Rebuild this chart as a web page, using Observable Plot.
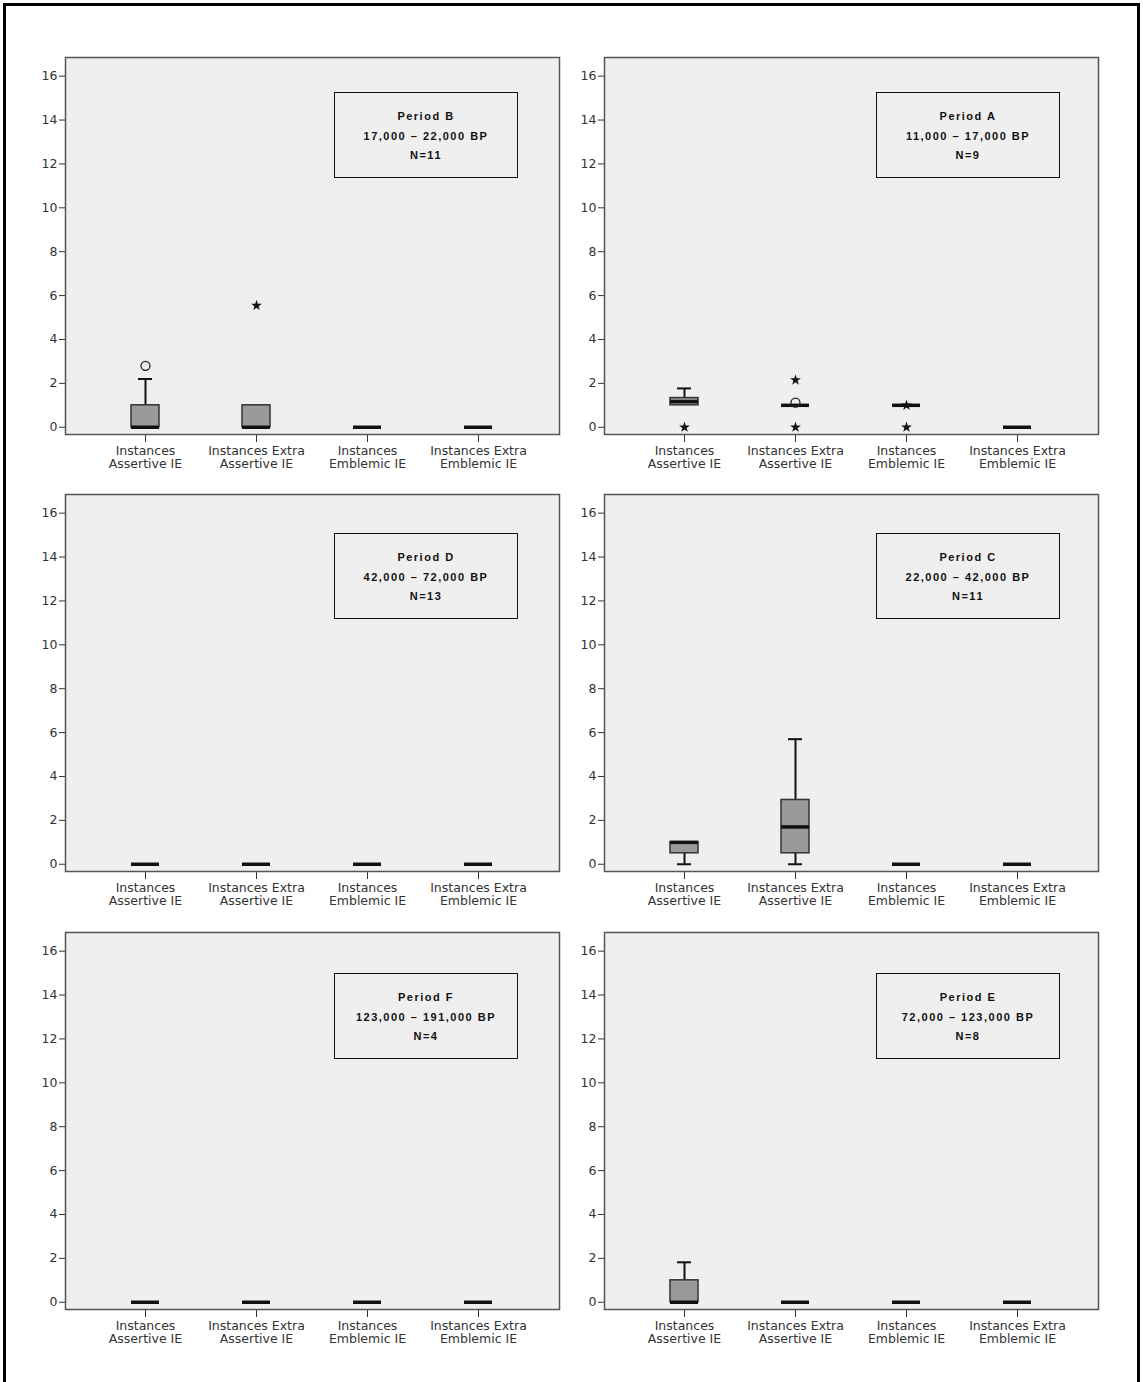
<!DOCTYPE html>
<html>
<head>
<meta charset="utf-8">
<script src="https://cdn.jsdelivr.net/npm/d3@7"></script>
<script src="https://cdn.jsdelivr.net/npm/@observablehq/plot@0.6"></script>
<style>
  html, body { margin: 0; padding: 0; background: #fff; }
  #root { position: relative; width: 1143px; height: 1382px; overflow: hidden; background: #fff; }
  #border { position: absolute; left: 3px; top: 3px; width: 1137px; height: 1400px; box-sizing: border-box;
            border-top: 3px solid #000; border-left: 3px solid #000; border-right: 3px solid #000; }
  .panel { position: absolute; }
  .note { position: absolute; width: 184px; height: 86px; box-sizing: border-box; border: 1.5px solid #111;
          font-family: "Liberation Sans", Arial, sans-serif; font-weight: bold; font-size: 11px; letter-spacing: 1.5px;
          color: #111; text-align: center; padding-top: 14px; line-height: 19.5px; }
</style>
</head>
<body>
<div id="root"><div id="border"></div></div>
<script>
// ---- data ----
const categories = ["Instances Assertive IE", "Instances Extra Assertive IE", "Instances Emblemic IE", "Instances Extra Emblemic IE"];
const categoryLabels = ["Instances\nAssertive IE", "Instances Extra\nAssertive IE", "Instances\nEmblemic IE", "Instances Extra\nEmblemic IE"];
const yTicks = [0, 2, 4, 6, 8, 10, 12, 14, 16];

const periodNames = ["Period B", "Period A", "Period D", "Period C", "Period F", "Period E"];
const periodRanges = ["17,000 – 22,000 BP", "11,000 – 17,000 BP", "42,000 – 72,000 BP", "22,000 – 42,000 BP", "123,000 – 191,000 BP", "72,000 – 123,000 BP"];
const periodN = ["N=11", "N=9", "N=13", "N=11", "N=4", "N=8"];

// per category: [lower whisker, q1, median, q3, upper whisker]
const statsB = [[0, 0, 0, 1, 2.2], [0, 0, 0, 1, 1], [0, 0, 0, 0, 0], [0, 0, 0, 0, 0]];
const statsA = [[1, 1, 1.17, 1.33, 1.77], [1, 1, 1, 1, 1], [1, 1, 1, 1, 1], [0, 0, 0, 0, 0]];
const statsD = [[0, 0, 0, 0, 0], [0, 0, 0, 0, 0], [0, 0, 0, 0, 0], [0, 0, 0, 0, 0]];
const statsC = [[0, 0.5, 1, 1, 1], [0, 0.5, 1.7, 2.93, 5.7], [0, 0, 0, 0, 0], [0, 0, 0, 0, 0]];
const statsF = [[0, 0, 0, 0, 0], [0, 0, 0, 0, 0], [0, 0, 0, 0, 0], [0, 0, 0, 0, 0]];
const statsE = [[0, 0, 0, 1, 1.82], [0, 0, 0, 0, 0], [0, 0, 0, 0, 0], [0, 0, 0, 0, 0]];

// outliers: [category index, value, kind]
const outliersB = [[0, 2.8, "circle"], [1, 5.55, "star"]];
const outliersA = [[0, 0, "star"], [1, 1.12, "circle"], [1, 2.15, "star"], [1, 0, "star"], [2, 1, "star"], [2, 0, "star"]];
const outliersD = [];
const outliersC = [];
const outliersF = [];
const outliersE = [];

const allStats = [statsB, statsA, statsD, statsC, statsF, statsE];
const allOutliers = [outliersB, outliersA, outliersD, outliersC, outliersF, outliersE];

// ---- layout ----
const svgLeft = [0, 539];
const svgTop = [37, 474, 912];
const noteLeft = [334, 876];
const noteTop = [92, 533, 973];

function panel(stats, outliers) {
  const rows = categories.map((c, i) => ({cat: c, lo: stats[i][0], q1: stats[i][1], med: stats[i][2], q3: stats[i][3], hi: stats[i][4]}));
  const boxes = rows.filter(r => r.q3 > r.q1);
  const upper = rows.filter(r => r.hi > r.q3);
  const lower = rows.filter(r => r.lo < r.q1);
  const outs = outliers.map(([i, v, k]) => ({cat: categories[i], value: v, kind: k}));
  const circles = outs.filter(o => o.kind === "circle");
  const stars = outs.filter(o => o.kind === "star");
  return Plot.plot({
    width: 569, height: 447,
    marginLeft: 65, marginRight: 10, marginTop: 20, marginBottom: 50,
    style: {background: "transparent", color: "#333", fontFamily: "DejaVu Sans, sans-serif", fontSize: "12.5px"},
    x: {type: "band", domain: categories, paddingInner: 0.7477, paddingOuter: 0.599, tickSize: 8, tickFormat: () => "", label: null},
    y: {domain: [-0.33, 16.85], ticks: yTicks, tickSize: 6, tickPadding: 2, label: null},
    marks: [
      Plot.frame({fill: "#efefef"}),
      Plot.ruleX(upper, {x: "cat", y1: "q3", y2: "hi", stroke: "#111", strokeWidth: 2}),
      Plot.ruleX(lower, {x: "cat", y1: "lo", y2: "q1", stroke: "#111", strokeWidth: 2}),
      Plot.tickY(upper, {x: "cat", y: "hi", insetLeft: 7, insetRight: 7, stroke: "#111", strokeWidth: 2}),
      Plot.tickY(lower, {x: "cat", y: "lo", insetLeft: 7, insetRight: 7, stroke: "#111", strokeWidth: 2}),
      Plot.barY(boxes, {x: "cat", y1: "q1", y2: "q3", fill: "#9a9a9a", stroke: "#333", strokeWidth: 1.5}),
      Plot.tickY(rows, {x: "cat", y: "med", stroke: "#111", strokeWidth: 3.5}),
      Plot.dot(circles, {x: "cat", y: "value", r: 4.5, stroke: "#222", fill: "none", strokeWidth: 1.3}),
      Plot.dot(stars, {x: "cat", y: "value", symbol: "star", r: 3.4, fill: "#111", stroke: "none"}),
      Plot.text(categories, {x: d => d, text: (d, i) => categoryLabels[i], frameAnchor: "bottom", dy: 11, lineAnchor: "top", lineHeight: 1.05, fill: "#333", fontSize: 12.5}),
      Plot.frame({stroke: "#555", strokeWidth: 1.5})
    ]
  });
}

const root = document.getElementById("root");
allStats.forEach((stats, p) => {
  const col = p % 2, row = Math.floor(p / 2);
  const svg = panel(stats, allOutliers[p]);
  const wrap = document.createElement("div");
  wrap.className = "panel";
  wrap.style.left = svgLeft[col] + "px";
  wrap.style.top = svgTop[row] + "px";
  wrap.appendChild(svg);
  root.appendChild(wrap);
  const note = document.createElement("div");
  note.className = "note";
  note.style.left = noteLeft[col] + "px";
  note.style.top = noteTop[row] + "px";
  [periodNames[p], periodRanges[p], periodN[p]].forEach(t => {
    const line = document.createElement("div");
    line.textContent = t;
    note.appendChild(line);
  });
  root.appendChild(note);
});
</script>
</body>
</html>
